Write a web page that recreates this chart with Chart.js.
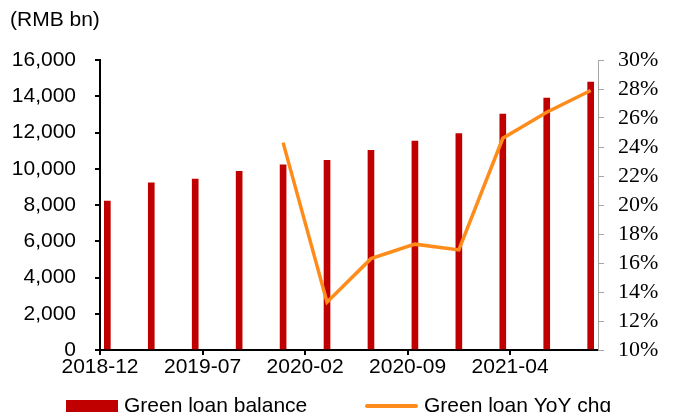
<!DOCTYPE html>
<html>
<head>
<meta charset="utf-8">
<script src="https://cdn.jsdelivr.net/npm/chart.js@4.4.1/dist/chart.umd.min.js"></script>
<style>
  html, body { margin: 0; padding: 0; background: #fff; overflow: hidden; }
  canvas { display: block; }
</style>
</head>
<body>
<canvas id="c" width="680" height="412"></canvas>
<script>
// Quarter-end observations
const quarters = ['2018-12', '2019-03', '2019-06', '2019-09', '2019-12', '2020-03',
                  '2020-06', '2020-09', '2020-12', '2021-03', '2021-06', '2021-09'];
// Green loan balance, RMB bn
const balance = [8220, 9230, 9430, 9860, 10210, 10460, 11010, 11530, 11940, 13020, 13900, 14780];
// Year-on-year change, %
const yoyChg = [null, null, null, null, 24.3, 13.3, 16.3, 17.3, 16.9, 24.6, 26.4, 27.9];
// Monthly date-axis labels
const tickLabels = ['2018-12', '2019-07', '2020-02', '2020-09', '2021-04'];
const seriesNames = ['Green loan balance', 'Green loan YoY chg'];

const FIRST = '2018-12';
const LAST = '2021-09';

// months elapsed since the first month on the axis
function monthIndex(s) {
  const [y, m] = s.split('-').map(Number);
  const [y0, m0] = FIRST.split('-').map(Number);
  return (y - y0) * 12 + (m - m0);
}
const axisMax = monthIndex(LAST) + 1;

// each observation sits in the middle of its month slot
const barPoints = quarters.map((q, i) => ({ x: monthIndex(q) + 0.5, y: balance[i] }));
const linePoints = quarters
  .map((q, i) => ({ x: monthIndex(q) + 0.5, y: yoyChg[i] }))
  .filter(p => p.y !== null);
const tickPositions = tickLabels.map(monthIndex);

const SANS = '"Liberation Sans", Arial, sans-serif';
const SERIF = '"Liberation Serif", "Times New Roman", serif';

// legend row along the bottom edge
const bottomLegend = {
  id: 'bottomLegend',
  afterDraw(chart) {
    const ctx = chart.ctx;
    const ds = chart.data.datasets;
    ctx.save();
    ctx.font = '21px ' + SANS;
    ctx.textBaseline = 'alphabetic';
    ctx.textAlign = 'left';
    ctx.fillStyle = ds[0].backgroundColor;
    ctx.fillRect(66, 400, 52, 14);
    ctx.fillStyle = '#000';
    ctx.fillText(ds[0].label, 124, 412);
    ctx.strokeStyle = ds[1].borderColor;
    ctx.lineWidth = 4;
    ctx.lineCap = 'round';
    ctx.beginPath();
    ctx.moveTo(367, 406);
    ctx.lineTo(416, 406);
    ctx.stroke();
    ctx.fillText(ds[1].label, 424, 412);
    ctx.restore();
  }
};

Chart.defaults.color = '#000';

new Chart(document.getElementById('c'), {
  type: 'bar',
  data: {
    datasets: [
      {
        type: 'bar',
        label: seriesNames[0],
        data: barPoints,
        backgroundColor: '#C00000',
        borderWidth: 0,
        barThickness: 6,
        yAxisID: 'y',
        order: 1
      },
      {
        type: 'line',
        label: seriesNames[1],
        data: linePoints,
        borderColor: '#FF8C1A',
        backgroundColor: '#FF8C1A',
        borderWidth: 3.5,
        pointRadius: 0,
        tension: 0,
        yAxisID: 'y2',
        order: 0
      }
    ]
  },
  options: {
    responsive: false,
    animation: false,
    devicePixelRatio: 1,
    layout: { padding: { left: 10, right: 0, top: 0, bottom: 0 } },
    plugins: {
      legend: { display: false },
      tooltip: { enabled: false },
      title: {
        display: true,
        text: '(RMB bn)',
        align: 'start',
        color: '#000',
        font: { family: SANS, size: 21, weight: 'normal' },
        padding: { top: 8, bottom: 26.8 }
      }
    },
    scales: {
      x: {
        type: 'linear',
        min: 0,
        max: axisMax,
        offset: false,
        afterBuildTicks: (scale) => { scale.ticks = tickPositions.map(v => ({ value: v })); },
        afterFit: (scale) => { scale.height = 62; },
        ticks: {
          autoSkip: false,
          maxRotation: 0,
          padding: 0,
          font: { family: SANS, size: 21 },
          callback: (v) => tickLabels[tickPositions.indexOf(v)]
        },
        grid: { offset: false, drawOnChartArea: false, drawTicks: true, tickLength: 5, color: '#000', lineWidth: 2 },
        border: { display: true, color: '#000', width: 2 }
      },
      y: {
        position: 'left',
        min: 0,
        max: 16000,
        afterFit: (scale) => { scale.width = 90; },
        ticks: {
          stepSize: 2000,
          autoSkip: false,
          padding: 19,
          font: { family: SANS, size: 21 },
          callback: (v) => v.toLocaleString('en-US')
        },
        grid: { drawOnChartArea: false, drawTicks: true, tickLength: 5, color: '#000', lineWidth: 2 },
        border: { display: true, color: '#000', width: 2 }
      },
      y2: {
        position: 'right',
        min: 10,
        max: 30,
        afterFit: (scale) => { scale.width = 82; },
        ticks: {
          stepSize: 2,
          autoSkip: false,
          padding: 14,
          font: { family: SERIF, size: 22 },
          callback: (v) => v + '%'
        },
        grid: { drawOnChartArea: false, drawTicks: true, tickLength: 6, color: '#A6A6A6', lineWidth: 1 },
        border: { display: true, color: '#A6A6A6', width: 1 }
      }
    }
  },
  plugins: [bottomLegend]
});
</script>
</body>
</html>
